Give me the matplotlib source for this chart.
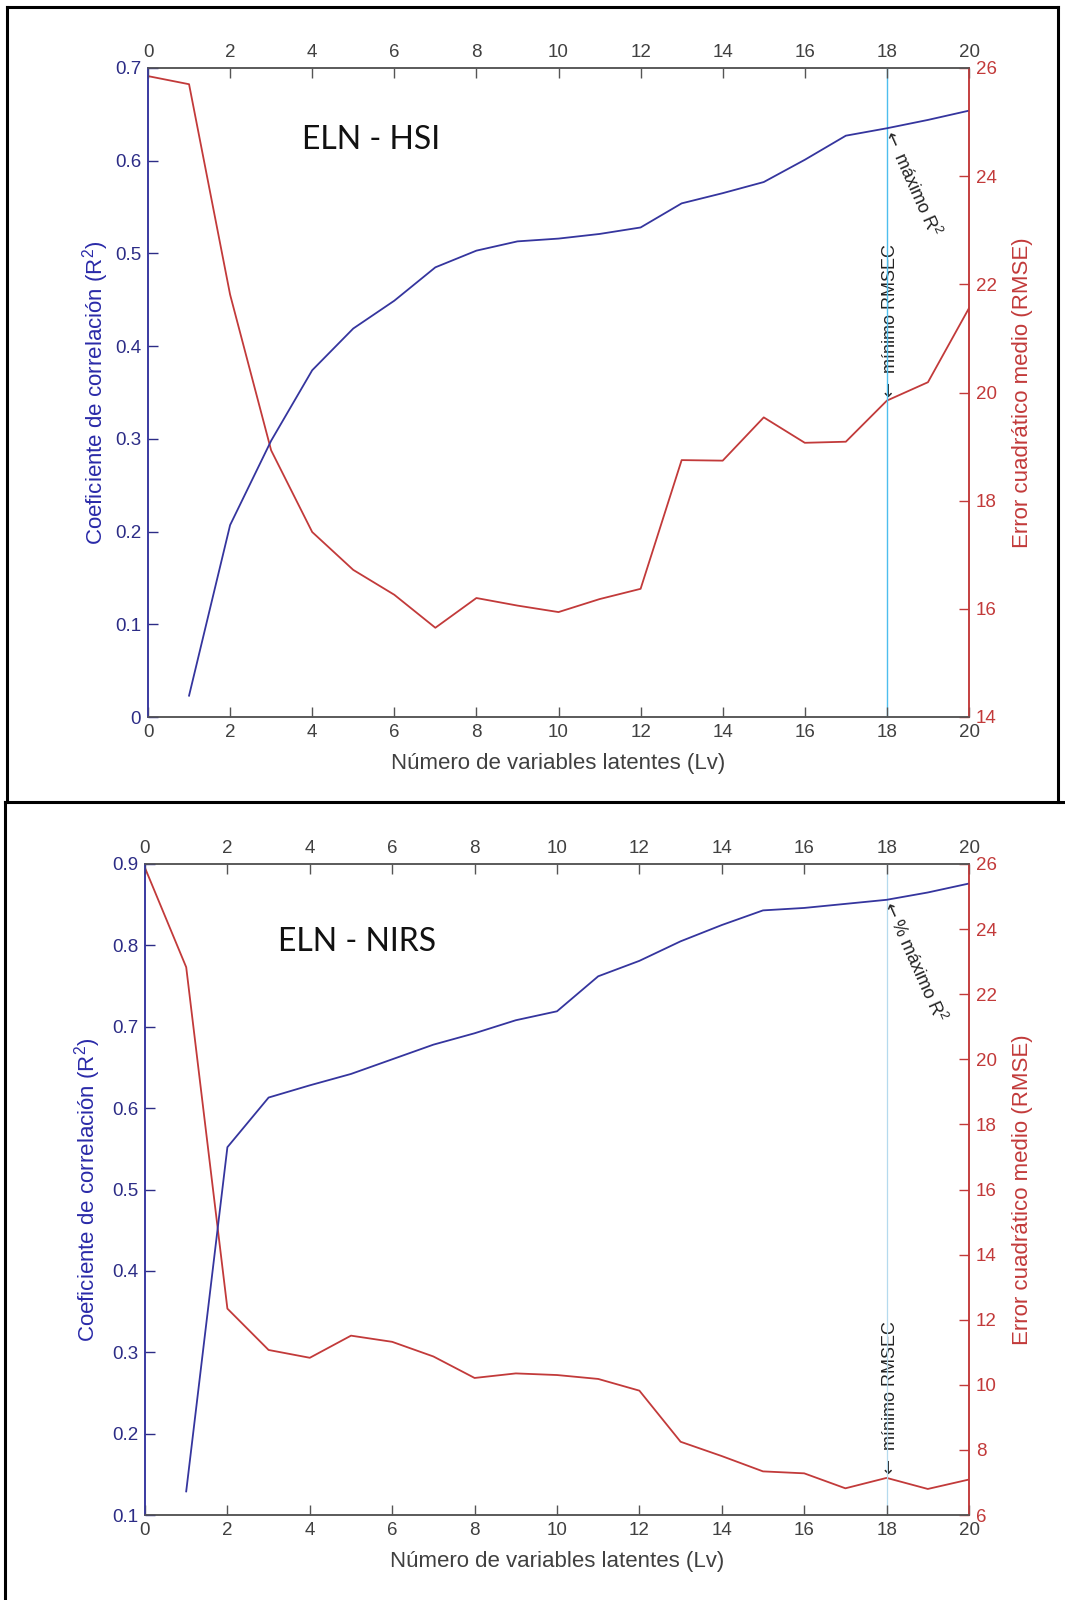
import matplotlib
matplotlib.use("Agg")
import matplotlib.pyplot as plt
from matplotlib.lines import Line2D
from matplotlib.transforms import ScaledTranslation

plt.rcParams['font.family'] = ['Liberation Sans', 'DejaVu Sans']
plt.rcParams['mathtext.fontset'] = 'dejavusans'

# ---------------- data ----------------
lv = list(range(0, 21))
lv_r2 = list(range(1, 21))

hsi_r2 = [0.023, 0.207, 0.298, 0.374, 0.419, 0.449, 0.485, 0.503, 0.513, 0.516,
          0.521, 0.528, 0.554, 0.565, 0.577, 0.601, 0.627, 0.635, 0.644, 0.654]
hsi_rmse = [25.85, 25.70, 21.81, 18.93, 17.42, 16.72, 16.26, 15.65, 16.20, 16.06,
            15.94, 16.18, 16.37, 18.75, 18.74, 19.54, 19.07, 19.09, 19.85, 20.19, 21.56]

nirs_r2 = [0.129, 0.552, 0.613, 0.628, 0.642, 0.660, 0.678, 0.692, 0.708, 0.719,
           0.762, 0.781, 0.805, 0.825, 0.843, 0.846, 0.851, 0.856, 0.865, 0.876]
nirs_rmse = [25.88, 22.83, 12.34, 11.07, 10.83, 11.51, 11.32, 10.87, 10.21, 10.35,
             10.30, 10.18, 9.82, 8.25, 7.81, 7.34, 7.28, 6.82, 7.14, 6.80, 7.09]

x_ticks = list(range(0, 21, 2))
hsi_r2_ticks = [0, 0.1, 0.2, 0.3, 0.4, 0.5, 0.6, 0.7]
hsi_r2_labels = ['0', '0.1', '0.2', '0.3', '0.4', '0.5', '0.6', '0.7']
hsi_rmse_ticks = [14, 16, 18, 20, 22, 24, 26]
nirs_r2_ticks = [0.1, 0.2, 0.3, 0.4, 0.5, 0.6, 0.7, 0.8, 0.9]
nirs_r2_labels = ['0.1', '0.2', '0.3', '0.4', '0.5', '0.6', '0.7', '0.8', '0.9']
nirs_rmse_ticks = [6, 8, 10, 12, 14, 16, 18, 20, 22, 24, 26]

best_lv = 18

BLUE = '#35359E'
BLUE_TXT = '#2C2C86'
RED = '#C23A3A'
GRAY = '#555555'
TXT = '#404040'

W, H = 1065, 1600
fig = plt.figure(figsize=(W / 100, H / 100), dpi=100)


def add_panel(rect, r2, rmse, r2_ticks, r2_labels, r2_lim, rmse_ticks, rmse_lim,
              title, title_pos, vcolor, vlw, rmse_at, r2_at, max_label, ylab_x):
    ax = fig.add_axes(rect)
    ax2 = ax.twinx()
    ax.set_zorder(ax2.get_zorder() + 1)
    ax.patch.set_visible(False)

    ax2.plot(lv, rmse, color=RED, lw=1.3)
    ax.plot(lv_r2, r2, color=BLUE, lw=1.3)
    ax.axvline(best_lv, color=vcolor, lw=vlw, zorder=0)

    ax.set_xlim(0, 20)
    ax.set_ylim(*r2_lim)
    ax2.set_ylim(*rmse_lim)
    ax.set_xticks(x_ticks)
    ax.set_yticks(r2_ticks)
    ax.set_yticklabels(r2_labels)
    ax2.set_yticks(rmse_ticks)

    ax.tick_params(axis='x', direction='in', length=7, top=True, labeltop=True,
                   labelsize=13.5, colors=TXT, width=1, pad=5)
    ax.tick_params(axis='x', color=GRAY)
    ax.tick_params(axis='y', direction='in', length=7, labelsize=13.5,
                   colors=BLUE_TXT, width=1, pad=5)
    ax2.tick_params(axis='y', direction='in', length=7, labelsize=13.5,
                    colors=RED, width=1, pad=5)

    for s in ['top', 'bottom']:
        ax.spines[s].set_color(GRAY)
        ax2.spines[s].set_color(GRAY)
    ax.spines['left'].set_color(BLUE)
    ax2.spines['left'].set_color(BLUE)
    ax.spines['right'].set_color(RED)
    ax2.spines['right'].set_color(RED)
    for a in (ax, ax2):
        for s in a.spines.values():
            s.set_linewidth(1.1)

    ax.set_xlabel('Número de variables latentes (Lv)', fontsize=16, color=TXT)
    ax.xaxis.set_label_coords(0.5, -0.056)
    ax.set_ylabel('Coeficiente de correlación (R$\\mathregular{^2}$)', fontsize=16,
                  color='#2A2AA8')
    ax.yaxis.set_label_coords(ylab_x, 0.5)
    ax2.set_ylabel('Error cuadrático medio (RMSE)', fontsize=16, color=RED,
                   rotation=90)
    ax2.yaxis.set_label_coords(1.052, 0.5)

    ax.text(title_pos[0], title_pos[1], title, transform=ax.transAxes,
            fontsize=23, family=['Lato', 'DejaVu Sans'], color='#111111',
            ha='left', va='baseline')

    shift = ScaledTranslation(4 / 100, 0, fig.dpi_scale_trans)
    ax2.text(best_lv, rmse_at, '$\\leftarrow$ mínimo RMSEC', rotation=90,
             rotation_mode='anchor', ha='left', va='center', fontsize=13,
             color='#222222', transform=ax2.transData + shift)
    ax.text(best_lv, r2_at, max_label, rotation=-66,
            rotation_mode='anchor', ha='left', va='center', fontsize=13,
            color='#222222')
    return ax


add_panel([148 / W, 1 - 717 / H, 821 / W, 649 / H], hsi_r2, hsi_rmse,
          hsi_r2_ticks, hsi_r2_labels, (0, 0.7), hsi_rmse_ticks, (14, 26),
          'ELN - HSI', (0.188, 0.875), '#4DBEEE', 1.0,
          hsi_rmse[best_lv], hsi_r2[best_lv - 1],
          '$\\leftarrow$ máximo R$\\mathregular{^2}$', -0.045)

add_panel([145 / W, 1 - 1515 / H, 824 / W, 651 / H], nirs_r2, nirs_rmse,
          nirs_r2_ticks, nirs_r2_labels, (0.1, 0.9), nirs_rmse_ticks, (6, 26),
          'ELN - NIRS', (0.161, 0.866), '#B5DAEE', 0.9,
          nirs_rmse[best_lv], nirs_r2[best_lv - 1],
          '$\\leftarrow$% máximo R$\\mathregular{^2}$', -0.051)

# panel frames
def fx(px):
    return px / W


def fy(py):
    return 1 - py / H


frame_kw = dict(color='black', lw=2.2, transform=fig.transFigure)
fig.add_artist(Line2D([fx(7), fx(1058)], [fy(7), fy(7)], **frame_kw))
fig.add_artist(Line2D([fx(7), fx(7)], [fy(7), fy(802)], **frame_kw))
fig.add_artist(Line2D([fx(1058), fx(1058)], [fy(7), fy(802)], **frame_kw))
fig.add_artist(Line2D([fx(5), fx(1065)], [fy(802), fy(802)], **frame_kw))
fig.add_artist(Line2D([fx(5), fx(5)], [fy(802), fy(1600)], **frame_kw))

fig.savefig('out.png', dpi=100, facecolor='white')
